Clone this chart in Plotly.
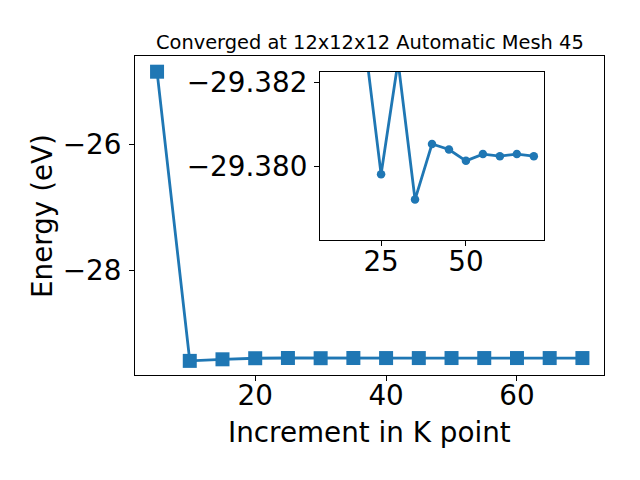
import plotly.graph_objects as go

# Data
kpoints = [5, 10, 15, 20, 25, 30, 35, 40, 45, 50, 55, 60, 65, 70]
energy = [-24.858, -29.425, -29.400, -29.3831, -29.37982, -29.3825, -29.37922,
          -29.38054, -29.38041, -29.38014, -29.38030, -29.38025, -29.38030, -29.38025]
inset_k = kpoints[1:]
inset_e = energy[1:]

title_text = "Converged at 12x12x12 Automatic Mesh 45"
xlabel = "Increment in K point"
ylabel = "Energy (eV)"

BLUE = "#1f77b4"
FONT = "DejaVu Sans"

W, H = 640, 480
L, R, T, B = 135, 604, 56, 375  # main axes box in px

fig = go.Figure()
fig.add_trace(go.Scatter(x=kpoints, y=energy, mode="lines+markers",
                         line=dict(color=BLUE, width=2.8),
                         marker=dict(symbol="square", size=14, color=BLUE),
                         xaxis="x", yaxis="y", showlegend=False, cliponaxis=False))
fig.add_trace(go.Scatter(x=inset_k, y=inset_e, mode="lines+markers",
                         line=dict(color=BLUE, width=2.8),
                         marker=dict(symbol="circle", size=8.5, color=BLUE),
                         xaxis="x2", yaxis="y2", showlegend=False))

def px_x(p):
    return (p - L) / (R - L)

def px_y(p):
    return (B - p) / (B - T)

axis_common = dict(showgrid=False, zeroline=False, showline=True, linecolor="black",
                   linewidth=1.1, mirror=True, ticks="outside", ticklen=5, tickwidth=1.1,
                   tickcolor="black", automargin=False,
                   tickfont=dict(size=27.8, color="black", family=FONT))

fig.update_layout(
    width=W, height=H,
    margin=dict(l=L, r=W - R, t=T, b=H - B, pad=0, autoexpand=False),
    paper_bgcolor="white", plot_bgcolor="white",
    font=dict(family=FONT, color="black"),
    xaxis=dict(domain=[0, 1], range=[1.63, 73.3], tick0=0, dtick=20,
               ticklabelstandoff=-9, **axis_common),
    yaxis=dict(domain=[0, 1], range=[-29.648, -24.61], tick0=0, dtick=2,
               ticklabelstandoff=2, **axis_common),
    xaxis2=dict(domain=[px_x(320), px_x(544)], anchor="y2", range=[7.0, 73.0],
                tick0=0, dtick=25, ticklabelstandoff=-8, **axis_common),
    yaxis2=dict(domain=[px_y(240), px_y(72)], anchor="x2",
                range=[-29.37826, -29.38225], tick0=-29.380, dtick=0.002,
                tickformat=".3f", ticklabelstandoff=1, **axis_common),
    annotations=[
        dict(text=title_text, xref="paper", yref="paper", x=0.5,
             y=px_y(42), xanchor="center", yanchor="middle", showarrow=False,
             font=dict(size=19.4, family=FONT, color="black")),
        dict(text=xlabel, xref="paper", yref="paper", x=0.5,
             y=px_y(432), xanchor="center", yanchor="middle", showarrow=False,
             font=dict(size=27.8, family=FONT, color="black")),
        dict(text=ylabel, xref="paper", yref="paper", x=px_x(43),
             y=px_y(216), xanchor="center", yanchor="middle", showarrow=False,
             textangle=-90, font=dict(size=27.8, family=FONT, color="black")),
    ],
)

fig.write_html("out.html", config={"displayModeBar": False},
               post_script="document.body.style.margin='0';")
